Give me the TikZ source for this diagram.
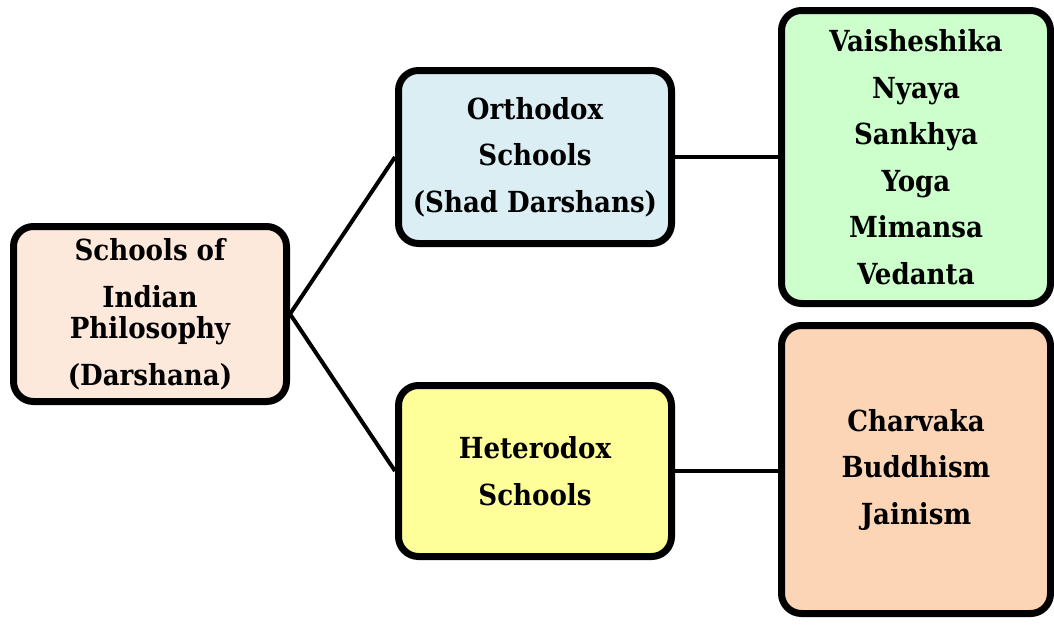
\documentclass[tikz,border=0pt]{standalone}
\usepackage{fontspec}
\setmainfont{DejaVu Serif Condensed}
\usetikzlibrary{shadows,calc}
\definecolor{cA}{HTML}{FDE9DB}
\definecolor{cB}{HTML}{DBEEF4}
\definecolor{cC}{HTML}{CCFFCC}
\definecolor{cD}{HTML}{FFFF99}
\definecolor{cE}{HTML}{FBD5B5}
\tikzset{
  box/.style={draw=black, line width=7pt, rounded corners=20pt, align=center,
    inner sep=0pt, font=\fontsize{29}{46.5}\selectfont\bfseries,
    drop shadow={shadow xshift=2pt, shadow yshift=-3pt, opacity=0.35, fill=black!60}},
  link/.style={line width=4pt, draw=black}
}
\begin{document}
\begin{tikzpicture}[x=1pt,y=-1pt]
\useasboundingbox (0,0) rectangle (1054,624);
\node[box, fill=cA, minimum width=273pt, minimum height=175pt] (root) at (150,314)
  {Schools of\\Indian\\[-15pt]Philosophy\\(Darshana)};
\node[box, fill=cB, minimum width=273pt, minimum height=173pt] (orth) at (535,157)
  {Orthodox\\Schools\\(Shad Darshans)};
\node[box, fill=cD, minimum width=273pt, minimum height=171pt] (het) at (535,471)
  {Heterodox\\Schools};
\node[box, fill=cC, minimum width=269pt, minimum height=293pt] (six) at (916,157)
  {Vaisheshika\\Nyaya\\Sankhya\\Yoga\\Mimansa\\Vedanta};
\node[box, fill=cE, minimum width=269pt, minimum height=288pt] (three) at (916,469.5)
  {Charvaka\\Buddhism\\Jainism};
\begin{scope}[on background layer/.try]
\end{scope}
\draw[link] (root.east) -- (orth.west);
\draw[link] (root.east) -- (het.west);
\draw[link] (orth.east) -- (six.west);
\draw[link] (het.east) -- (het.east -| three.west);
\end{tikzpicture}
\end{document}
